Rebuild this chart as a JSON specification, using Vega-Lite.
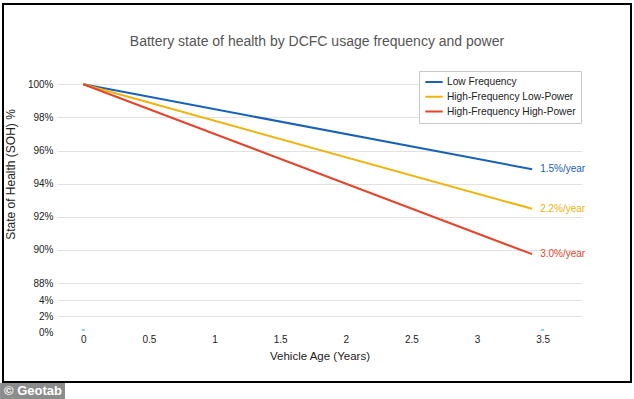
{
  "$schema": "https://vega.github.io/schema/vega-lite/v6.json",
  "width": 628,
  "height": 378,
  "autosize": "none",
  "padding": {"left": 3, "top": 4, "right": 3, "bottom": 17},
  "background": "white",
  "config": {
    "view": {"stroke": "black", "strokeWidth": 2},
    "font": "Liberation Sans"
  },
  "title": {
    "text": "Battery state of health by DCFC usage frequency and power",
    "fontSize": 14,
    "fontWeight": "normal",
    "color": "#555555",
    "anchor": "middle",
    "frame": "group",
    "offset": -45
  },
  "datasets": {
    "series": [
      {"series": "Low Frequency", "age": 0, "soh": 100, "label": ""},
      {"series": "Low Frequency", "age": 3.42, "soh": 94.87, "label": "1.5%/year"},
      {"series": "High-Frequency Low-Power", "age": 0, "soh": 100, "label": ""},
      {"series": "High-Frequency Low-Power", "age": 3.42, "soh": 92.48, "label": "2.2%/year"},
      {"series": "High-Frequency High-Power", "age": 0, "soh": 100, "label": ""},
      {"series": "High-Frequency High-Power", "age": 3.42, "soh": 89.74, "label": "3.0%/year"}
    ],
    "markers": [
      {"age": 0, "soh": 0.31},
      {"age": 3.5, "soh": 0.31}
    ],
    "one": [{"k": 1}]
  },
  "layer": [
    {
      "data": {"name": "series"},
      "mark": {"type": "line", "strokeWidth": 2},
      "encoding": {
        "x": {
          "field": "age",
          "type": "quantitative",
          "scale": {"domain": [-0.2, 3.8], "range": [54, 579], "nice": false, "zero": false},
          "axis": {
            "title": "Vehicle Age (Years)",
            "values": [0, 0.5, 1, 1.5, 2, 2.5, 3, 3.5],
            "labelExpr": "datum.value + ''",
            "domain": false,
            "ticks": false,
            "grid": false,
            "offset": -51,
            "labelPadding": 3,
            "labelFlush": false,
            "labelFontSize": 10,
            "labelColor": "#222222",
            "titleFontSize": 11.5,
            "titleFontWeight": "normal",
            "titleColor": "#222222",
            "titlePadding": 6
          }
        },
        "y": {
          "field": "soh",
          "type": "quantitative",
          "scale": {"domain": [0, 4, 88, 100], "range": [328.5, 296, 279, 80.3], "nice": false, "zero": false},
          "axis": {
            "title": "State of Health (SOH) %",
            "values": [0, 2, 4, 88, 90, 92, 94, 96, 98, 100],
            "labelExpr": "datum.value + '%'",
            "domain": false,
            "ticks": false,
            "grid": true,
            "gridColor": {"condition": {"test": "datum.value === 0", "value": "transparent"}, "value": "#e2e2e2"},
            "offset": -54,
            "labelPadding": 4,
            "labelFontSize": 10,
            "labelColor": "#222222",
            "titleFontSize": 12,
            "titleFontWeight": "normal",
            "titleColor": "#222222",
            "titleX": -40,
            "titleY": 170
          }
        },
        "color": {
          "field": "series",
          "type": "nominal",
          "scale": {
            "domain": ["Low Frequency", "High-Frequency Low-Power", "High-Frequency High-Power"],
            "range": ["#1762b8", "#f0b30a", "#e5442c"]
          },
          "legend": {
            "orient": "none",
            "legendX": 416,
            "legendY": 67,
            "title": null,
            "symbolType": "stroke",
            "symbolSize": 300,
            "symbolStrokeWidth": 2,
            "labelFontSize": 10.2,
            "labelColor": "#222222",
            "strokeColor": "#c8c8c8",
            "fillColor": "white",
            "padding": 5,
            "rowPadding": 2.8,
            "clipHeight": 12,
            "labelOffset": 3
          }
        }
      }
    },
    {
      "data": {"name": "series"},
      "transform": [{"filter": "datum.age > 0"}],
      "mark": {"type": "text", "align": "left", "baseline": "middle", "dx": 8, "fontSize": 10},
      "encoding": {
        "x": {"field": "age", "type": "quantitative"},
        "y": {"field": "soh", "type": "quantitative"},
        "text": {"field": "label"},
        "color": {"field": "series", "type": "nominal"}
      }
    },
    {
      "data": {"name": "markers"},
      "mark": {"type": "tick", "orient": "horizontal", "size": 3, "thickness": 1.5, "color": "#19b5c8"},
      "encoding": {
        "x": {"field": "age", "type": "quantitative"},
        "y": {"field": "soh", "type": "quantitative"}
      }
    },
    {
      "data": {"name": "one"},
      "mark": {"type": "rect", "color": "#8c8c8c"},
      "encoding": {
        "x": {"datum": -0.634, "type": "quantitative"},
        "x2": {"datum": -0.139},
        "y": {"datum": -6.215, "type": "quantitative"},
        "y2": {"datum": -8.18}
      }
    },
    {
      "data": {"name": "one"},
      "mark": {"type": "text", "align": "left", "baseline": "middle", "fontSize": 13, "fontWeight": "bold", "color": "white", "text": "© Geotab"},
      "encoding": {
        "x": {"datum": -0.604, "type": "quantitative"},
        "y": {"datum": -7.2, "type": "quantitative"}
      }
    }
  ]
}
